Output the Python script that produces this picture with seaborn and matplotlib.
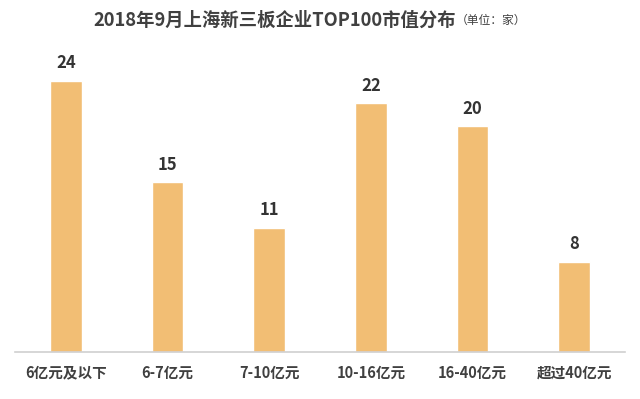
import seaborn as sns
import matplotlib.pyplot as plt
import pandas as pd

categories = ['6亿元及以下', '6-7亿元', '7-10亿元', '10-16亿元', '16-40亿元', '超过40亿元']
counts = [24, 15, 11, 22, 20, 8]

sns.set_theme(style='white')
plt.rcParams['font.family'] = ['Noto Sans CJK SC', 'DejaVu Sans']

df = pd.DataFrame({'category': categories, 'count': counts})

fig = plt.figure(figsize=(6.4, 3.99), dpi=100)
ax = fig.add_axes([15 / 640, 47 / 399, 610 / 640, 305 / 399])

sns.barplot(data=df, x='category', y='count', color='#F2BE74', width=0.31,
            saturation=1, ax=ax)

ax.set_ylim(0, 305 / 11.3)
ax.set_xlim(-0.5, len(categories) - 0.5)
ax.set(xlabel=None, ylabel=None)
ax.set_yticks([])
for s in ['top', 'right', 'left']:
    ax.spines[s].set_visible(False)
ax.spines['bottom'].set_color('#d0d0d0')
ax.spines['bottom'].set_linewidth(1.2)
ax.tick_params(axis='x', length=0, pad=9)
for lbl in ax.get_xticklabels():
    lbl.set_fontsize(10.5)
    lbl.set_fontweight('bold')
    lbl.set_color('#404040')

# data labels
for p in ax.patches:
    ax.annotate(str(int(p.get_height())), (p.get_x() + p.get_width() / 2, p.get_height()),
                xytext=(0, 6), textcoords='offset points', ha='center', va='bottom',
                fontsize=12, fontweight='bold', color='#333333')

fig.text(93 / 640, 0.95, '2018年9月上海新三板企业TOP100市值分布', ha='left', va='center',
         fontsize=13.2, fontweight='bold', color='#404040')
fig.text(456 / 640, 0.948, '（单位：家）', ha='left', va='center', fontsize=8.5, color='#404040')

plt.savefig('out.png', dpi=100)
plt.close()
